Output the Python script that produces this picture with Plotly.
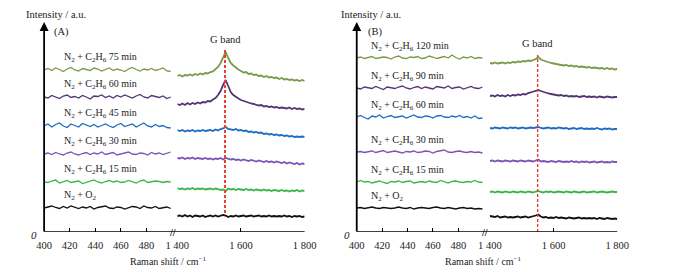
import plotly.graph_objects as go

# ---------------- data ----------------
wn_low = list(range(400, 500, 3))          # 34 points, 400-499 cm-1
wn_high = list(range(1400, 1801, 8))       # 51 points, 1400-1800 cm-1
g_band = 1550

labels_A = ["N<sub>2</sub> + C<sub>2</sub>H<sub>6</sub> 75 min", "N<sub>2</sub> + C<sub>2</sub>H<sub>6</sub> 60 min",
            "N<sub>2</sub> + C<sub>2</sub>H<sub>6</sub> 45 min", "N<sub>2</sub> + C<sub>2</sub>H<sub>6</sub> 30 min",
            "N<sub>2</sub> + C<sub>2</sub>H<sub>6</sub> 15 min", "N<sub>2</sub> + O<sub>2</sub>"]
labels_B = ["N<sub>2</sub> + C<sub>2</sub>H<sub>6</sub> 120 min", "N<sub>2</sub> + C<sub>2</sub>H<sub>6</sub> 90 min",
            "N<sub>2</sub> + C<sub>2</sub>H<sub>6</sub> 60 min", "N<sub>2</sub> + C<sub>2</sub>H<sub>6</sub> 30 min",
            "N<sub>2</sub> + C<sub>2</sub>H<sub>6</sub> 15 min", "N<sub>2</sub> + O<sub>2</sub>"]
colors = ["#7b9a4a", "#523575", "#1f6cc4", "#7a55b8", "#3bb54a", "#111111"]
offsets_A = [162, 135, 106, 78, 50, 24]
offsets_B = [174, 144, 115, 80, 50, 24]

A75_low = [0, 1.5, -0.5, 2, 0.5, -1.5, 1, 2.5, 0, -1, 1.5, 0.5, -0.5, 2, 1, -1, 0.5, 2, -0.5, 1, 0, -1.5, 1, 2.5,
           0.5, -1, 1, 0, 1.5, -0.5, 0.5, 2, -1, -1.5]
A75_high = [-6, -5, -6.5, -5, -5.5, -4.5, -5.5, -4, -5, -3.5,
            -4.5, -3, -3.5, -2, -1.5, 0.5, 3, 7, 13, 18,
            12, 7, 4.5, 2, 0.5, -1, -2.5, -2, -4, -3.5,
            -5, -4.5, -6, -5.5, -7, -6, -7.5, -7, -8, -7.5,
            -9, -8, -9.5, -9, -10, -9.5, -10.5, -10, -11, -10,
            -11]
A60_low = [0, -1, 1.5, 0, -1.5, 1, 2, -0.5, 0.5, -1, 1.5, 0, -2, 1, 0.5, 2, -0.5, 1, -1, 1.5, 0, 2, 0.5, -1, 1,
           2.5, 0, -1, 1.5, 0.5, -0.5, 1, -1.5, 0]
A60_high = [-7, -8, -6.5, -8, -6, -7.5, -6, -7, -5.5, -6.5,
            -5, -5.5, -4, -4.5, -2.5, -1, 2, 6, 12, 17,
            11, 5, 2, 0, -1.5, -3, -4, -5, -5.5, -6.5,
            -7, -7.5, -8.5, -8, -9.5, -9, -10, -9.5, -10.5, -10,
            -11, -10.5, -11, -11.5, -10.5, -12, -11, -12, -11.5, -12.5,
            -12]
A45_low = [0, 2, -1, 1.5, 3, 0, -1.5, 2, 0.5, -1, 2.5, 1, -0.5, 1.5, -1, 0.5, 2, 0, -1.5, 1, 2.5, -0.5, 0.5, 2, -1,
           1, 3, 0, -1, 1.5, -0.5, 0.5, -1.5, -2]
A45_high = [-4, -5, -4, -5.5, -4.5, -5, -4, -5.5, -4.5, -5,
            -4, -5, -4.5, -4, -5, -3.5, -4.5, -3, -2.5, -1,
            -3, -3.5, -4, -3, -4.5, -4, -5, -4.5, -6, -5.5,
            -6.5, -6, -7, -6.5, -8, -7.5, -8.5, -8, -9, -8.5,
            -9.5, -9, -10, -9.5, -10.5, -10, -11, -10.5, -11, -10.5,
            -11]
A30_low = [0, 1, -0.5, 1.5, 0, -1, 1, 2, 0, -1, 0.5, 1.5, -0.5, 1, 0, 2, -0.5, 0.5, 1.5, -1, 0, 1, 2, 0, -0.5, 1,
           0.5, -1, 1.5, 0, 1, -0.5, 0.5, 2]
A30_high = [-4, -4.5, -3.5, -5, -4, -4.5, -3.5, -5, -4, -4.5,
            -5, -4, -5, -4.5, -5.5, -4.5, -5, -4, -5.5, -4,
            -5, -5.5, -5, -6, -5.5, -6.5, -5.5, -6, -7, -6,
            -6.5, -7.5, -6.5, -7, -8, -7, -8, -7.5, -8.5, -7.5,
            -8.5, -9, -8, -9.5, -8.5, -9.5, -10, -9, -10.5, -9.5,
            -10]
A15_low = [0, -0.5, 1, 2, -1, 0.5, 1.5, -0.5, 0, 1, -1.5, -0.5, 1, 2, 0, -1, 0.5, 1.5, 0, 1, -0.5, 0, 1.5, 0.5,
           -1, 1, 2, -0.5, 0, 1, 0.5, -0.5, 0.5, 0]
A15_high = [-6, -7, -6.5, -7.5, -6.5, -7, -6, -7.5, -6.5, -7,
            -6.5, -7.5, -7, -6.5, -7.5, -6.5, -7, -8, -7.5, -9,
            -6.5, -7.5, -7, -8, -7, -7.5, -8, -7, -8, -7.5,
            -8.5, -7.5, -8, -8.5, -7.5, -8.5, -8, -9, -8, -8.5,
            -9, -8, -9, -8.5, -9.5, -8.5, -9, -8, -9.5, -8.5,
            -9]
AO2_low = [0, 1, 2, 0.5, -0.5, 1.5, 0, 2, 1, -0.5, 1, 0, 1.5, -1, 0.5, 1, 2, 0, -0.5, 1, 0.5, -1, 0, 1.5, 1, -0.5,
           2, 0.5, 0, 1.5, -0.5, 0, 1, -0.5]
AO2_high = [-8, -7.5, -8.5, -7, -8.5, -7.5, -9, -7.5, -8, -8.5,
            -7.5, -9, -8, -7.5, -8.5, -7.5, -8.5, -8, -7, -7.5,
            -9, -8, -8.5, -7.5, -8.5, -8, -7.5, -8.5, -8, -7.5,
            -8.5, -8, -7.5, -8.5, -8, -8.5, -7.5, -8.5, -8, -8.5,
            -8, -8.5, -7.5, -8.5, -8, -9, -8, -8.5, -8, -9,
            -8.5]

B120_low = [0, 1, -0.5, 0.5, 1.5, -0.5, 0, 1, 0.5, -1, 1, 2, 0, -0.5, 1, 0.5, 1.5, -0.5, 0, 2, 1, -0.5, 0.5, 1.5,
            0, 3, 0.5, -1, 1, 0, 1.5, -0.5, 0.5, 0]
B120_high = [-5, -5.5, -4.5, -5.5, -5, -4.5, -5.5, -4.5, -5, -4,
             -4.5, -3.5, -4, -3, -3.5, -2.5, -3, -2, -1, 1,
             -1.5, -2.5, -3.5, -4, -5, -5.5, -6, -6.5, -7, -7.5,
             -7, -8, -7.5, -8.5, -8, -9, -8.5, -9, -9.5, -9,
             -10, -9.5, -10, -10.5, -10, -11, -10, -11, -10.5, -11.5,
             -11]
B90_low = [0, -1, 1, 0.5, -0.5, 1.5, 0, -1.5, 1, 0.5, -0.5, 1, 2, 0, -1, 0.5, 1.5, -0.5, 1, 0, -1, 1.5, 0.5, 0, 2,
           -0.5, 0.5, 1, -1, 0, 1.5, 0, -0.5, 1]
B90_high = [-8, -7.5, -8.5, -7, -8, -7.5, -8.5, -7, -8, -7,
            -7.5, -6.5, -7, -6, -6.5, -5, -4.5, -3.5, -2.5, -2,
            -3, -4, -5, -5.5, -6, -6.5, -7, -7.5, -7, -8,
            -7.5, -8.5, -8, -8.5, -8, -9, -8.5, -8, -9, -8.5,
            -9, -8.5, -9.5, -8.5, -9, -9.5, -8.5, -9, -9.5, -9,
            -9]
B60_low = [0, 1.5, -0.5, -2, 1, 0, 2, -1, 0.5, 1.5, -0.5, 0, 1, -1, 0.5, 2, 0, -0.5, 1, 0.5, -1, 1, 1.5, 0, -0.5,
           1, 0, 1.5, -0.5, 0.5, -1, 1, -1.5, -1]
B60_high = [-11, -11.5, -10.5, -11, -11.5, -10.5, -11, -11.5, -10.5, -11,
            -10.5, -11.5, -11, -10.5, -11.5, -11, -10.5, -11, -10.5, -10,
            -11, -11.5, -11, -10.5, -11.5, -11, -11.5, -10.5, -11, -11.5,
            -11, -12, -11.5, -11, -12, -11.5, -11, -12, -11.5, -12,
            -11.5, -12, -11, -12, -12.5, -11.5, -12, -11.5, -12.5, -12,
            -12]
B30_low = [0, 0.5, -0.5, 0, 1, -0.5, 0.5, 1.5, -0.5, 0, 1, 0, -1, 0.5, 0, 1, -0.5, 0, 1, 0.5, -1, 0.5, 1.5, 2, 0,
           -0.5, 0.5, 1, 0, -0.5, 0.5, -0.5, 0, -1]
B30_high = [-9, -8.5, -9.5, -8.5, -9, -9.5, -8.5, -9, -9.5, -8.5,
            -9, -9.5, -8.5, -9, -9.5, -8.5, -9, -9.5, -8.5, -7.5,
            -9.5, -9, -9.5, -10, -9, -9.5, -10, -9, -9.5, -10,
            -9.5, -10, -9, -10, -9.5, -10.5, -9.5, -10, -9.5, -10.5,
            -10, -9.5, -10.5, -10, -9.5, -10.5, -10, -10.5, -9.5, -10,
            -10]
B15_low = [0, 1.5, 0, 0.5, -1, 0, 1, -0.5, -1.5, 0.5, 0, 1, -0.5, 0.5, 1, -1, 0, 0.5, -0.5, 1, 0, -0.5, 1.5, 0, -1,
           0.5, 1, 0, -0.5, 0.5, 0, 1.5, 0, -0.5]
B15_high = [-10, -9.5, -10.5, -9.5, -10, -10.5, -9.5, -10, -10.5, -9.5,
            -10, -10.5, -9.5, -10, -10.5, -9.5, -10, -10.5, -9.5, -9,
            -10, -10.5, -9.5, -10, -9.5, -10.5, -10, -9.5, -10, -10.5,
            -9.5, -10, -10.5, -9.5, -10, -10.5, -10, -9.5, -10.5, -10,
            -10, -9.5, -10.5, -10, -9.5, -10, -10.5, -10, -9.5, -10,
            -10]
BO2_low = [0, 0.5, -0.5, 0, 1, 0, -0.5, 0.5, 0, -0.5, 0, 1, 0, -0.5, 0.5, -1, 0, 0.5, 0, -0.5, 0.5, 1, 0, -0.5,
           0.5, 0, -1, 0, 0.5, -0.5, 0, -1, -0.5, -1]
BO2_high = [-8, -8.5, -9, -8, -9.5, -9, -8.5, -9.5, -9, -9.5,
            -9, -8.5, -9.5, -9, -8.5, -9.5, -9, -8.5, -7.5, -6.5,
            -8.5, -9.5, -9, -10, -9.5, -10, -9, -10, -9.5, -10,
            -10.5, -9.5, -10, -10.5, -10, -9.5, -10.5, -10, -10.5, -10,
            -10.5, -10, -11, -10, -10.5, -11, -10, -10.5, -11, -10.5,
            -11]

low_A = [A75_low, A60_low, A45_low, A30_low, A15_low, AO2_low]
high_A = [A75_high, A60_high, A45_high, A30_high, A15_high, AO2_high]
low_B = [B120_low, B90_low, B60_low, B30_low, B15_low, BO2_low]
high_B = [B120_high, B90_high, B60_high, B30_high, B15_high, BO2_high]

low_ticks = [400, 420, 440, 460, 480]
high_ticks = [1400, 1600, 1800]
high_ticktext = ["1 400", "1 600", "1 800"]

# ---------------- figure ----------------
W, H = 683, 272
OFF = 8      # page body margin offset of the plot div
FONT = "Liberation Serif"
TXT = "#222"
fig = go.Figure()


def px_x(p):
    return (p - OFF) / W


def px_y(p):
    return (H - (p - OFF)) / H


panels = [
    dict(low=low_A, high=high_A, off=offsets_A, labels=labels_A, xl="x", xh="x2", y="y", lab_gap=13,
         lab_x=414, xaxis_px=(33, 165.5, 171, 303), tag="(A)", tag_x=51, ititle_x=12,
         gtop=182, gbot=19, gtext_y=193, dash_w=2, title_x=162),
    dict(low=low_B, high=high_B, off=offsets_B, labels=labels_B, xl="x3", xh="x4", y="y2", lab_gap=11.5,
         lab_x=410, xaxis_px=(357, 488.6, 495, 627), tag="(B)", tag_x=376, ititle_x=339,
         gtop=177, gbot=0, gtext_y=189, dash_w=1.4, title_x=488),
]

annotations = []
shapes = []
ydom = [px_y(232), px_y(22)]

for p in panels:
    for lo, hi, off, col, lab in zip(p["low"], p["high"], p["off"], colors, p["labels"]):
        fig.add_trace(go.Scatter(x=wn_low, y=[off + v for v in lo], xaxis=p["xl"], yaxis=p["y"], mode="lines",
                                 line=dict(color=col, width=1.3), showlegend=False, hoverinfo="skip"))
        fig.add_trace(go.Scatter(x=wn_high, y=[off + v for v in hi], xaxis=p["xh"], yaxis=p["y"], mode="lines",
                                 line=dict(color=col, width=1.8), showlegend=False, hoverinfo="skip"))
        annotations.append(dict(x=p["lab_x"], y=off + p["lab_gap"], xref=p["xl"], yref=p["y"], text=lab,
                                showarrow=False, xanchor="left", yanchor="middle",
                                font=dict(family=FONT, size=10, color=TXT)))
    # G band dashed line
    shapes.append(dict(type="line", x0=g_band, x1=g_band, y0=p["gbot"], y1=p["gtop"], xref=p["xh"], yref=p["y"],
                       line=dict(color="#ec3b2e", width=p["dash_w"], dash="3px,2px")))
    annotations.append(dict(x=g_band, y=p["gtext_y"], xref=p["xh"], yref=p["y"], text="G band", showarrow=False,
                            xanchor="center", yanchor="middle", font=dict(family=FONT, size=10.5, color=TXT)))
    x0, x1, x2, x3 = p["xaxis_px"]
    # x axis baseline (continuous, with break mark)
    shapes.append(dict(type="line", x0=px_x(x0), x1=px_x(x3), y0=0, y1=0, xref="paper", yref=p["y"],
                       line=dict(color="black", width=1.6)))
    annotations.append(dict(x=500, y=0, xref=p["xl"], yref=p["y"], text="<b>//</b>", showarrow=False,
                            xanchor="center", yanchor="middle", xshift=1,
                            font=dict(family=FONT, size=10, color="black")))
    # y axis arrow
    annotations.append(dict(x=400, y=210, xref=p["xl"], yref=p["y"], ax=0, ay=211, axref="pixel", ayref="pixel",
                            text="", showarrow=True, arrowhead=2, arrowsize=1, arrowwidth=1.8, arrowcolor="black"))
    annotations.append(dict(x=400, y=0, xref=p["xl"], yref=p["y"], text="<i>0</i>", showarrow=False,
                            xanchor="right", yanchor="middle", xshift=-5, yshift=-3,
                            font=dict(family=FONT, size=11, color=TXT)))
    annotations.append(dict(x=px_x(p["ititle_x"]), y=px_y(14), xref="paper", yref="paper", text="Intensity / a.u.",
                            showarrow=False, xanchor="left", yanchor="middle",
                            font=dict(family=FONT, size=10.5, color=TXT)))
    annotations.append(dict(x=px_x(p["tag_x"]), y=px_y(32), xref="paper", yref="paper", text=p["tag"],
                            showarrow=False, xanchor="center", yanchor="middle",
                            font=dict(family=FONT, size=10.5, color=TXT)))
    annotations.append(dict(x=px_x(p["title_x"]), y=px_y(261), xref="paper", yref="paper",
                            text="Raman shift / cm<sup>−1</sup>", showarrow=False, xanchor="center",
                            yanchor="middle", font=dict(family=FONT, size=10, color=TXT)))

tick_common = dict(ticks="inside", ticklen=4, tickwidth=1.4, tickcolor="black", showgrid=False, zeroline=False,
                   showline=False, tickfont=dict(family=FONT, size=10.5, color=TXT), ticklabelstandoff=5,
                   fixedrange=True)

fig.update_layout(
    width=W, height=H, margin=dict(l=0, r=0, t=0, b=0), paper_bgcolor="white", plot_bgcolor="white",
    xaxis=dict(domain=[px_x(33), px_x(165.5)], range=[400, 500], tickvals=low_ticks, anchor="y", **tick_common),
    xaxis2=dict(domain=[px_x(171), px_x(303)], range=[1400, 1800], tickvals=high_ticks, ticktext=high_ticktext,
                anchor="y", **tick_common),
    xaxis3=dict(domain=[px_x(357), px_x(488.6)], range=[400, 500], tickvals=low_ticks, anchor="y2", **tick_common),
    xaxis4=dict(domain=[px_x(495), px_x(627)], range=[1400, 1800], tickvals=high_ticks, ticktext=high_ticktext,
                anchor="y2", **tick_common),
    yaxis=dict(domain=ydom, range=[0, 210], visible=False, anchor="x", fixedrange=True),
    yaxis2=dict(domain=ydom, range=[0, 210], visible=False, anchor="x3", fixedrange=True),
    annotations=annotations, shapes=shapes,
)

fig.write_html("out.html")
